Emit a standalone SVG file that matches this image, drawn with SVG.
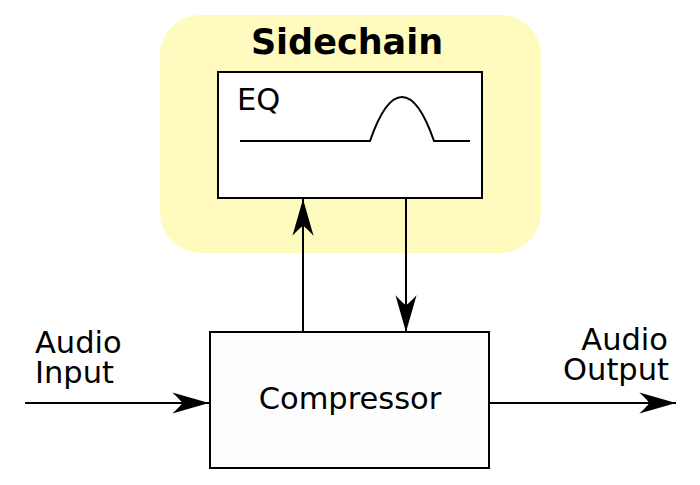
<svg xmlns="http://www.w3.org/2000/svg" width="700" height="485" viewBox="0 0 700 485">
<defs>
<style>
text{font-family:"DejaVu Sans","Liberation Sans",sans-serif;fill:#000}
.box{stroke:#000;stroke-width:2}
.wire{stroke:#000;stroke-width:2;fill:none}
.lbl{font-size:30.5px}
</style>
<marker id="ah" markerUnits="userSpaceOnUse" markerWidth="40" markerHeight="30" viewBox="-34 -12 36 24" refX="0" refY="0" orient="auto">
<path d="M0,0 L-33,-9.5 Q-26,-3 -24,0 Q-26,3 -33,9.5 Z" fill="#000"/>
</marker>
</defs>
<g id="sidechain">
<rect x="160" y="15" width="381" height="238" rx="40" ry="40" fill="#fffbbf"/>
<text x="347" y="54" text-anchor="middle" font-size="35" font-weight="bold">Sidechain</text>
</g>
<g id="eq">
<rect class="box" x="218" y="72" width="264" height="126" fill="#fff"/>
<text class="lbl" x="237" y="110">EQ</text>
<path class="wire" d="M240,141 L370,141 C380,112 390,97 402,97 C414,97 424,112 434,141 L470,141"/>
</g>
<g id="compressor">
<rect class="box" x="210" y="332" width="279" height="136" fill="#fdfdfd"/>
<text class="lbl" x="350" y="409" text-anchor="middle">Compressor</text>
</g>
<g id="audio-input">
<text class="lbl" x="35" y="353">Audio</text>
<text class="lbl" x="35" y="383">Input</text>
</g>
<g id="audio-output">
<text class="lbl" x="668" y="350" text-anchor="end">Audio</text>
<text class="lbl" x="669" y="380" text-anchor="end">Output</text>
</g>
<g id="connectors">
<line class="wire" x1="25" y1="403" x2="209" y2="403" marker-end="url(#ah)"/>
<line class="wire" x1="490" y1="403" x2="676" y2="403" marker-end="url(#ah)"/>
<line class="wire" x1="303" y1="331" x2="303" y2="199" marker-end="url(#ah)"/>
<line class="wire" x1="406" y1="199" x2="406" y2="332" marker-end="url(#ah)"/>
</g>
</svg>
